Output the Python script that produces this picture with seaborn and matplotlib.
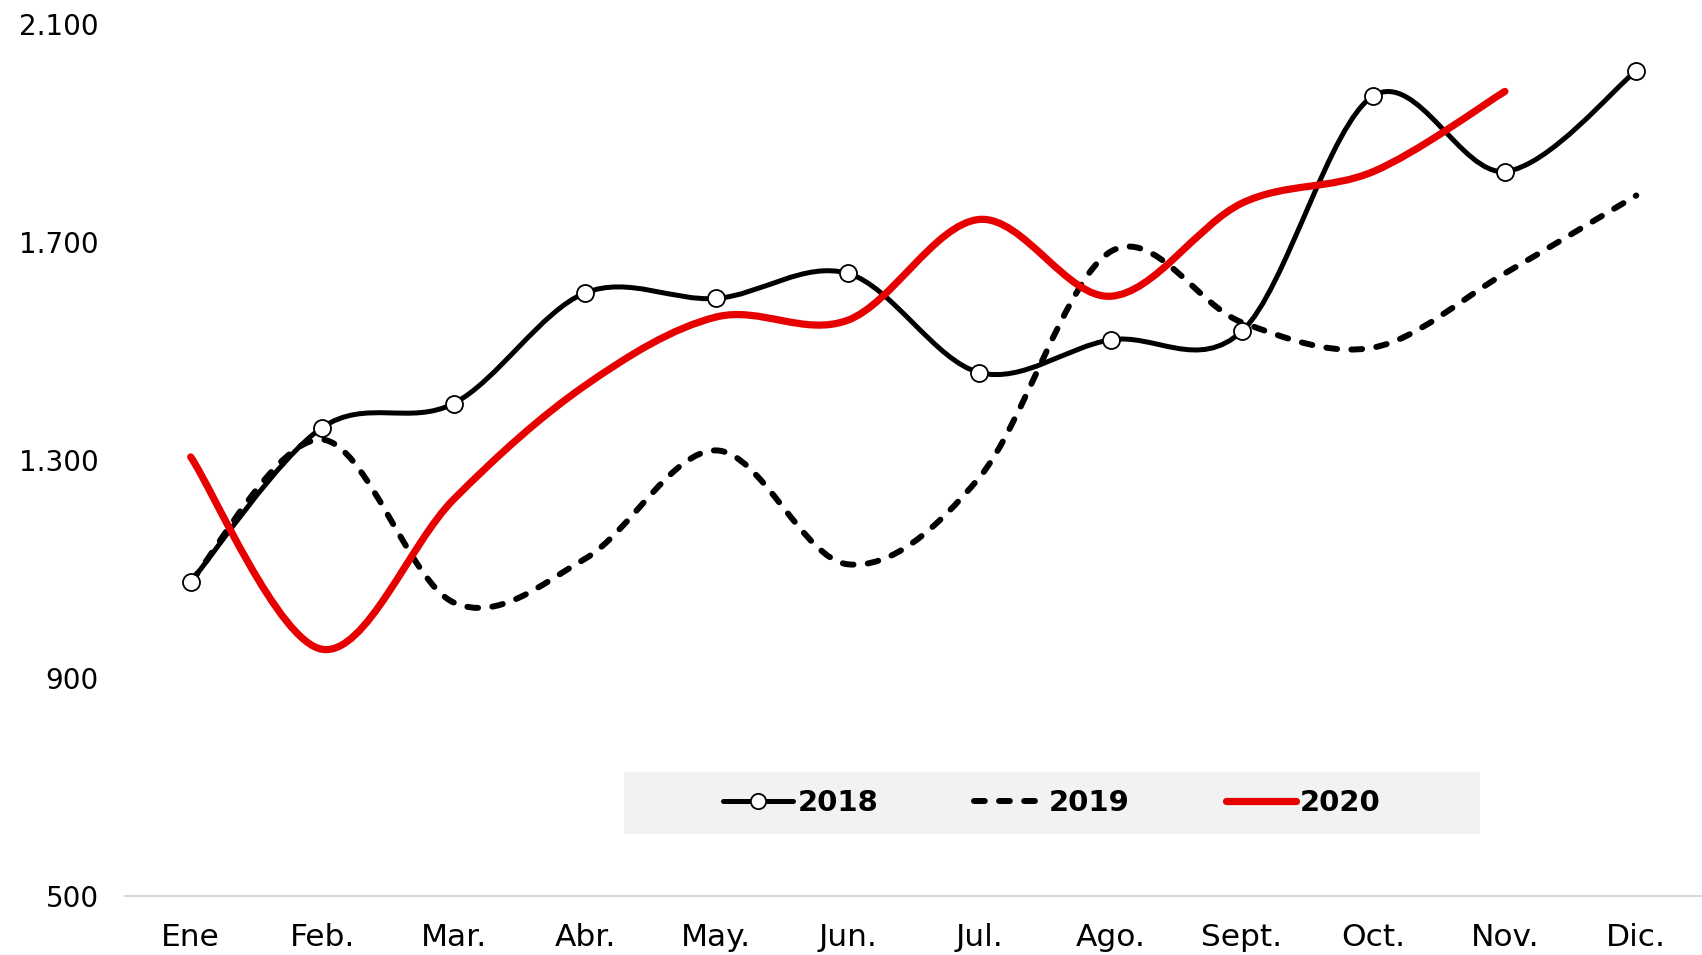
import numpy as np
import pandas as pd
import seaborn as sns
import matplotlib
matplotlib.use("Agg")
import matplotlib.pyplot as plt
from matplotlib.path import Path
from matplotlib.patches import PathPatch, Rectangle
from matplotlib.lines import Line2D
from matplotlib.ticker import FuncFormatter

# data
months = ["Ene", "Feb.", "Mar.", "Abr.", "May.", "Jun.", "Jul.", "Ago.",
          "Sept.", "Oct.", "Nov.", "Dic."]
values_2018 = [1076, 1359, 1403, 1606, 1596, 1642, 1460, 1520, 1536, 1968, 1829, 2014]
values_2019 = [1076, 1337, 1038, 1118, 1317, 1108, 1267, 1682, 1552, 1506, 1642, 1785]
values_2020 = [1305, 952, 1227, 1436, 1562, 1556, 1741, 1600, 1771, 1829, 1976]
y_ticks = [500, 900, 1300, 1700, 2100]

RED = "#e60000"


def smooth_path(ys):
    """Excel-like smoothed line: Catmull-Rom segments as cubic Bezier curves."""
    pts = np.column_stack([np.arange(len(ys)), ys]).astype(float)
    n = len(pts)
    verts = [pts[0]]
    codes = [Path.MOVETO]
    for i in range(n - 1):
        p0 = pts[i - 1] if i > 0 else pts[i]
        p1 = pts[i]
        p2 = pts[i + 1]
        p3 = pts[i + 2] if i + 2 < n else pts[i + 1]
        verts += [p1 + (p2 - p0) / 6, p2 - (p3 - p1) / 6, p2]
        codes += [Path.CURVE4] * 3
    return Path(verts, codes)


sns.set_style("white")
plt.rcParams["font.family"] = ["DejaVu Sans"]
plt.rcParams["text.color"] = "black"

fig = plt.figure(figsize=(17.02, 9.55), dpi=100)
ax = fig.add_axes([125 / 1702, 0.0623, 1 - 125 / 1702, 0.975 - 0.0623])

ax.add_patch(PathPatch(smooth_path(values_2019), fill=False, edgecolor="black",
                       linewidth=4.3, linestyle=(0, (1.8, 2.4)),
                       capstyle="round", zorder=3))
ax.add_patch(PathPatch(smooth_path(values_2018), fill=False, edgecolor="black",
                       linewidth=3.6, zorder=4))
ax.add_patch(PathPatch(smooth_path(values_2020), fill=False, edgecolor=RED,
                       linewidth=5.2, capstyle="round", zorder=5))

df18 = pd.DataFrame({"x": np.arange(len(months)), "y": values_2018})
sns.scatterplot(data=df18, x="x", y="y", ax=ax, s=150, color="white",
                edgecolor="black", linewidth=1.3, zorder=6)

ax.set_xlim(-0.5, len(months) - 0.5)
ax.set_ylim(500, 2100)
ax.set_xticks(np.arange(len(months)))
ax.set_xticklabels(months)
ax.set_yticks(y_ticks)
ax.yaxis.set_major_formatter(FuncFormatter(lambda v, p: f"{v:,.0f}".replace(",", ".")))
ax.set_xlabel("")
ax.set_ylabel("")
ax.tick_params(axis="y", length=0, pad=19, labelsize=20, labelcolor="black")
ax.tick_params(axis="x", length=0, pad=20, labelsize=22.5, labelcolor="black")

for side in ["left", "right", "top"]:
    ax.spines[side].set_visible(False)
ax.spines["bottom"].set_color("#d9d9d9")
ax.spines["bottom"].set_linewidth(1.5)

# legend panel
fig.patches.append(Rectangle((624 / 1702, 0.1267), 856 / 1702, 0.0649,
                             transform=fig.transFigure, facecolor="#f2f2f2",
                             edgecolor="none", zorder=7))
handles = [
    Line2D([], [], color="black", linewidth=3.6, marker="o", markersize=11,
           markerfacecolor="white", markeredgecolor="black", markeredgewidth=1.3),
    Line2D([], [], color="black", linewidth=4.3, linestyle=(0, (1.8, 2.4)),
           dash_capstyle="round"),
    Line2D([], [], color=RED, linewidth=5.2, solid_capstyle="round"),
]
leg = fig.legend(handles, ["2018", "2019", "2020"], loc="center",
                 bbox_to_anchor=((624 + 428) / 1702, 0.1267 + 0.0649 / 2),
                 ncol=3, frameon=False, handlelength=2.4, handletextpad=0.15,
                 columnspacing=3.3, labelcolor="black",
                 prop={"weight": "bold", "size": 21})
leg.set_zorder(8)

fig.savefig("out.png", dpi=100)
